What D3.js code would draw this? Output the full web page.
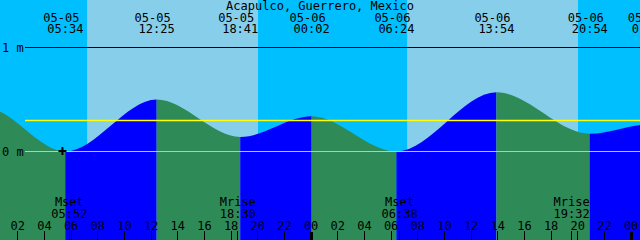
<!DOCTYPE html>
<html>
<head>
<meta charset="utf-8">
<script src="https://cdn.jsdelivr.net/npm/d3@7"></script>
<style>
  body { margin: 0; background: #fff; }
  svg { display: block; }
  text { font-family: "DejaVu Sans Mono", monospace; font-size: 12px; fill: #000; }
</style>
</head>
<body>
<div id="chart"></div>
<script>
// data (first and last extremes lie outside the view)
const title = 'Acapulco, Guerrero, Mexico';
const tideTimes = ['2024-05-04 17:30', '2024-05-04 23:36', '2024-05-05 05:34', '2024-05-05 12:25',
  '2024-05-05 18:41', '2024-05-06 00:02', '2024-05-06 06:24', '2024-05-06 13:54',
  '2024-05-06 20:54', '2024-05-07 01:24', '2024-05-07 07:10'];
const tideLevels = [0.12, 0.42, 0.00, 0.50, 0.14, 0.34, 0.00, 0.57, 0.17, 0.26, 0.00];
const sunTimes = ['2024-05-05 07:12', '2024-05-05 20:01', '2024-05-06 07:12', '2024-05-06 20:01']; // rise, set, rise, set
const moonNames = ['Mset', 'Mrise', 'Mset', 'Mrise'];
const moonTimes = ['2024-05-05 05:52', '2024-05-05 18:30', '2024-05-06 06:38', '2024-05-06 19:32'];
const levelTicks = [0, 1];
const levelLabels = ['0 m', '1 m'];
const meanLevel = 0.30;
const markTime = '2024-05-05 05:21';
const markLevel = 0;
const viewRange = ['2024-05-05 00:40', '2024-05-07 00:40'];

const width = 640, height = 240;
const parse = d3.timeParse('%Y-%m-%d %H:%M');
const tides = tideTimes.map((t, i) => ({time: parse(t), level: tideLevels[i]}));

const x = d3.scaleTime().domain(viewRange.map(parse)).range([0, width]);
const y = d3.scaleLinear().domain([0, 1]).range([151.5, 47.5]);
const crisp = v => Math.floor(v) + 0.5;

const svg = d3.select('#chart').append('svg')
  .attr('width', width).attr('height', height);

// night / day background
svg.append('rect').attr('width', width).attr('height', height).attr('fill', '#00bfff');
const days = d3.range(0, sunTimes.length, 2).map(i => [parse(sunTimes[i]), parse(sunTimes[i + 1])]);
svg.selectAll('.day').data(days).enter().append('rect')
  .attr('class', 'day')
  .attr('x', d => x(d[0]))
  .attr('width', d => x(d[1]) - x(d[0]))
  .attr('y', 0).attr('height', height)
  .attr('fill', '#87ceeb');

// tide area, coloured by rising / falling
const area = d3.area()
  .x(d => x(d.time))
  .y0(height)
  .y1(d => y(d.level))
  .curve(d3.curveMonotoneX);
svg.append('defs').append('clipPath').attr('id', 'tideClip')
  .append('path').attr('d', area(tides));
const segs = d3.pairs(tides);
svg.append('g').attr('clip-path', 'url(#tideClip)')
  .selectAll('rect').data(segs).enter().append('rect')
  .attr('x', d => x(d[0].time))
  .attr('width', d => x(d[1].time) - x(d[0].time))
  .attr('y', 0).attr('height', height)
  .attr('fill', d => d[1].level > d[0].level ? '#0000ff' : '#2e8b57');

// level lines
svg.append('line')
  .attr('x1', 25).attr('x2', width)
  .attr('y1', crisp(y(meanLevel))).attr('y2', crisp(y(meanLevel)))
  .attr('stroke', '#ffff00').attr('stroke-width', 1.5);
svg.selectAll('.level').data(levelTicks).enter().append('line')
  .attr('class', 'level')
  .attr('x1', 25).attr('x2', width)
  .attr('y1', d => crisp(y(d))).attr('y2', d => crisp(y(d)))
  .attr('stroke', d => d === 0 ? '#8fd4f2' : '#000');
svg.selectAll('.levelLabel').data(levelTicks).enter().append('text')
  .attr('class', 'levelLabel')
  .attr('x', 2).attr('y', d => crisp(y(d)) + 4)
  .text((d, i) => levelLabels[i]);

// now mark
const mx = x(parse(markTime)), my = y(markLevel) - 0.5;
svg.append('path')
  .attr('d', `M${mx - 4},${my}H${mx + 4}M${mx},${my - 4}V${my + 4}`)
  .attr('stroke', '#000').attr('stroke-width', 2);

// title
svg.append('text').attr('x', width / 2).attr('y', 10)
  .attr('text-anchor', 'middle').text(title);

// high / low labels
const fmtDate = d3.timeFormat('%m-%d'), fmtTime = d3.timeFormat('%H:%M');
const shown = tides.filter(d => x(d.time) >= 0 && x(d.time) <= width + 20);
svg.selectAll('.tDate').data(shown).enter().append('text')
  .attr('class', 'tDate')
  .attr('x', d => x(d.time) - 4).attr('y', 22)
  .attr('text-anchor', 'middle')
  .text(d => fmtDate(d.time));
svg.selectAll('.tTime').data(shown).enter().append('text')
  .attr('class', 'tTime')
  .attr('x', d => x(d.time)).attr('y', 33)
  .attr('text-anchor', 'middle')
  .text(d => fmtTime(d.time));

// moon events
const moon = moonTimes.map((t, i) => ({time: parse(t), name: moonNames[i]}));
svg.selectAll('.mName').data(moon).enter().append('text')
  .attr('class', 'mName')
  .attr('x', d => x(d.time)).attr('y', 206)
  .attr('text-anchor', 'middle')
  .text(d => d.name);
svg.selectAll('.mTime').data(moon).enter().append('text')
  .attr('class', 'mTime')
  .attr('x', d => x(d.time)).attr('y', 218)
  .attr('text-anchor', 'middle')
  .text(d => fmtTime(d.time));
svg.selectAll('.mTick').data(moon).enter().append('line')
  .attr('class', 'mTick')
  .attr('x1', d => crisp(x(d.time))).attr('x2', d => crisp(x(d.time)))
  .attr('y1', 231).attr('y2', height)
  .attr('stroke', '#000');

// hour axis
const hours = d3.timeHour.every(2).range(x.domain()[0], d3.timeMinute.offset(x.domain()[1], 1));
const fmtHour = d3.timeFormat('%H');
svg.selectAll('.hTick').data(hours).enter().append('line')
  .attr('class', 'hTick')
  .attr('x1', d => crisp(x(d))).attr('x2', d => crisp(x(d)))
  .attr('y1', d => d.getHours() === 0 ? 232 : 231).attr('y2', height)
  .attr('stroke', '#000')
  .attr('stroke-width', d => d.getHours() === 0 ? 3 : 1);
svg.selectAll('.hLabel').data(hours).enter().append('text')
  .attr('class', 'hLabel')
  .attr('x', d => x(d)).attr('y', 230)
  .attr('text-anchor', 'middle')
  .text(d => fmtHour(d));
</script>
</body>
</html>
